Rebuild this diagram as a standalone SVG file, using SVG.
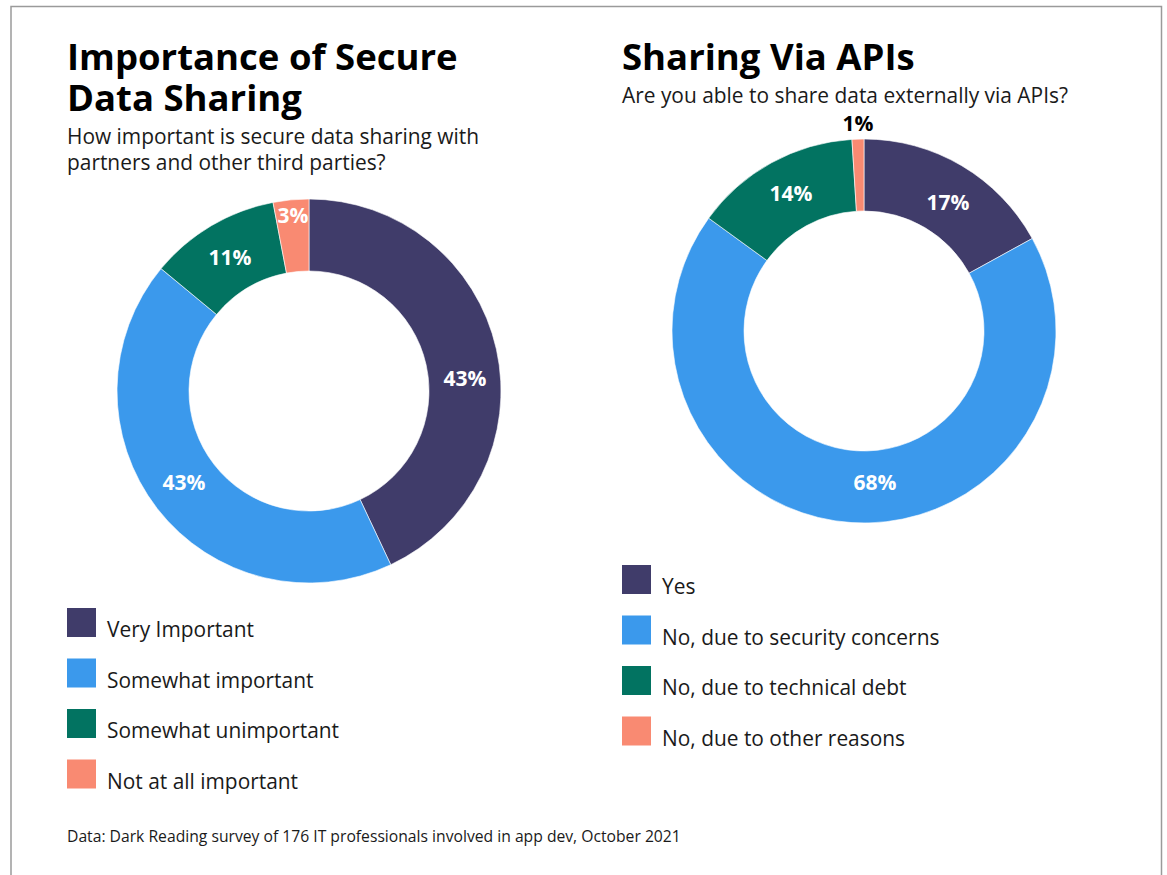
<svg xmlns="http://www.w3.org/2000/svg" width="1167" height="875" viewBox="0 0 1167 875">
<style>
.title{font-family:"Open Sans","Liberation Sans",sans-serif;font-weight:700;font-size:36.5px;fill:#000}
.sub{font-family:"Open Sans","Liberation Sans",sans-serif;font-size:20.9px;fill:#1a1a1a}
.pct{font-family:"Open Sans","Liberation Sans",sans-serif;font-weight:700;font-size:21px;fill:#fff;text-anchor:middle}
.leg{font-family:"Open Sans","Liberation Sans",sans-serif;font-size:20.9px;fill:#1a1a1a}
.foot{font-family:"Open Sans","Liberation Sans",sans-serif;font-size:15.7px;fill:#1a1a1a}
.c1{fill:#403c6a}.c2{fill:#3b99ec}.c3{fill:#027361}.c4{fill:#f98a72}
.seg{stroke:#fff;stroke-width:0.6}
</style>
<rect x="0" y="0" width="1167" height="875" fill="#fff"/>
<path d="M11,880 V6.5 H1161.5 V880" fill="none" stroke="#9a9a9a" stroke-width="1.5"/>

<g id="left-chart">
  <text class="title" x="67" y="70">Importance of Secure</text>
  <text class="title" x="67" y="111">Data Sharing</text>
  <text class="sub" x="67" y="144">How important is secure data sharing with</text>
  <text class="sub" x="67" y="170">partners and other third parties?</text>
  <g id="left-donut">
    <path class="seg c1" d="M309,199 A192,192 0 0 1 390.75,564.72 L360.10,499.58 A120,120 0 0 0 309,271 Z"/>
    <path class="seg c2" d="M390.75,564.72 A192,192 0 0 1 161.06,268.62 L216.54,314.51 A120,120 0 0 0 360.10,499.58 Z"/>
    <path class="seg c3" d="M161.06,268.62 A192,192 0 0 1 273.02,202.40 L286.51,273.12 A120,120 0 0 0 216.54,314.51 Z"/>
    <path class="seg c4" d="M273.02,202.40 A192,192 0 0 1 309,199 L309,271 A120,120 0 0 0 286.51,273.12 Z"/>
    <text class="pct" x="465" y="386">43%</text>
    <text class="pct" x="184" y="490">43%</text>
    <text class="pct" x="230" y="265">11%</text>
    <text class="pct" x="293" y="223">3%</text>
  </g>
  <g id="left-legend">
    <rect class="c1" x="67" y="608" width="29" height="29"/>
    <text class="leg" x="107" y="637">Very Important</text>
    <rect class="c2" x="67" y="658.5" width="29" height="29"/>
    <text class="leg" x="107" y="688">Somewhat important</text>
    <rect class="c3" x="67" y="709" width="29" height="29"/>
    <text class="leg" x="107" y="738">Somewhat unimportant</text>
    <rect class="c4" x="67" y="759.5" width="29" height="29"/>
    <text class="leg" x="107" y="789">Not at all important</text>
  </g>
</g>

<g id="right-chart">
  <text class="title" x="622" y="70">Sharing Via APIs</text>
  <text class="sub" x="622" y="103">Are you able to share data externally via APIs?</text>
  <g id="right-donut">
    <path class="seg c1" d="M864,139 A192,192 0 0 1 1032.25,238.49 L969.16,273.18 A120,120 0 0 0 864,211 Z"/>
    <path class="seg c2" d="M1032.25,238.49 A192,192 0 1 1 708.67,218.14 L766.92,260.46 A120,120 0 1 0 969.16,273.18 Z"/>
    <path class="seg c3" d="M708.67,218.14 A192,192 0 0 1 851.94,139.38 L856.46,211.24 A120,120 0 0 0 766.92,260.46 Z"/>
    <path class="seg c4" d="M851.94,139.38 A192,192 0 0 1 864,139 L864,211 A120,120 0 0 0 856.46,211.24 Z"/>
    <text class="pct" x="948" y="210">17%</text>
    <text class="pct" x="791" y="201">14%</text>
    <text class="pct" x="875" y="490">68%</text>
    <text class="pct" x="858" y="131" style="fill:#000">1%</text>
  </g>
  <g id="right-legend">
    <rect class="c1" x="622" y="565" width="29" height="29"/>
    <text class="leg" x="662" y="594">Yes</text>
    <rect class="c2" x="622" y="615.5" width="29" height="29"/>
    <text class="leg" x="662" y="645">No, due to security concerns</text>
    <rect class="c3" x="622" y="666" width="29" height="29"/>
    <text class="leg" x="662" y="695">No, due to technical debt</text>
    <rect class="c4" x="622" y="716.5" width="29" height="29"/>
    <text class="leg" x="662" y="746">No, due to other reasons</text>
  </g>
</g>

<text id="footer" class="foot" x="67" y="842">Data: Dark Reading survey of 176 IT professionals involved in app dev, October 2021</text>
</svg>
